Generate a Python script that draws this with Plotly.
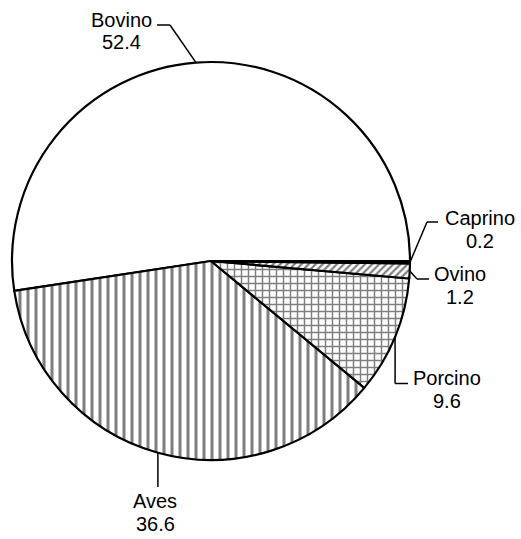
import numpy as np
import plotly.graph_objects as go

# ---- data ----
categories = ["Bovino", "Aves", "Porcino", "Ovino", "Caprino"]
values = [52.4, 36.6, 9.6, 1.2, 0.2]
value_labels = ["52.4", "36.6", "9.6", "1.2", "0.2"]

# ---- styling / layout ----
W, H = 521, 539
CX, CY, R = 211, 261, 199  # pie centre and radius in px
patterns = ["", "|", "+", "/", ""]
pat_size = [8, 8, 7, 5, 4]
pat_solid = [0.2, 0.38, 0.38, 0.45, 0.3]
fill_colors = ["white", "white", "white", "white", "black"]
FONT = dict(family="Liberation Sans, Arial, sans-serif", size=20, color="black")

# label layout (px): elbow, end of leader, text centre (name line); value line below
label_layout = {
    "Bovino": dict(elbow=(170, 25), end=(157, 25), text=(121.5, 19.5)),
    "Caprino": dict(elbow=(427, 222), end=(438, 222), text=(480, 217.5)),
    "Ovino": dict(elbow=(417, 279), end=(429, 279), text=(460, 274)),
    "Porcino": dict(elbow=("edge", 383.5), end=(408, 383.5), text=(447, 377.5)),
    "Aves": dict(elbow=("edge", 487), end=("edge", 487), text=(155, 500.5)),
}
LINE_GAP = 23


def px(x, y):
    return x / W, 1 - y / H


# slices go counterclockwise from 3 o'clock in data order; plotly draws the
# first slice clockwise from `rotation`, so place its far edge at 3 o'clock
total = float(np.sum(values))
rotation = 90 - 360.0 * values[0] / total

fig = go.Figure(
    go.Pie(
        labels=categories,
        values=values,
        sort=False,
        direction="counterclockwise",
        rotation=rotation,
        textinfo="none",
        hoverinfo="none",
        showlegend=False,
        marker=dict(
            colors=fill_colors,
            line=dict(color="black", width=2.2),
            pattern=dict(
                shape=patterns,
                size=pat_size,
                solidity=pat_solid,
                fgcolor="black",
                bgcolor=fill_colors,
                fillmode="overlay",
            ),
        ),
        domain=dict(x=[(CX - R) / W, (CX + R) / W], y=[1 - (CY + R) / H, 1 - (CY - R) / H]),
    )
)

# leader lines from slice mid-angles (computed from data)
cum = np.cumsum([0] + values)
shapes = []
annotations = []
for i, cat in enumerate(categories):
    mid = (cum[i] + cum[i + 1]) / 2 / total * 360.0  # degrees ccw from east
    ex = CX + R * np.cos(np.radians(mid))
    ey = CY - R * np.sin(np.radians(mid))
    lay = label_layout[cat]
    bx = ex if lay["elbow"][0] == "edge" else lay["elbow"][0]
    by = lay["elbow"][1]
    tx = ex if lay["end"][0] == "edge" else lay["end"][0]
    ty = lay["end"][1]
    pts = [(ex, ey), (bx, by), (tx, ty)]
    for (x0, y0), (x1, y1) in zip(pts[:-1], pts[1:]):
        if abs(x0 - x1) < 1e-6 and abs(y0 - y1) < 1e-6:
            continue
        p0 = px(x0, y0)
        p1 = px(x1, y1)
        shapes.append(dict(type="line", xref="paper", yref="paper",
                           x0=p0[0], y0=p0[1], x1=p1[0], y1=p1[1],
                           line=dict(color="black", width=1.5)))
    cx_t, cy_t = lay["text"]
    for txt, yy in [(cat, cy_t), (value_labels[i], cy_t + LINE_GAP)]:
        p = px(cx_t, yy)
        annotations.append(dict(text=txt, x=p[0], y=p[1], xref="paper", yref="paper",
                                xanchor="center", yanchor="middle", showarrow=False,
                                font=FONT))

fig.update_layout(
    width=W,
    height=H,
    margin=dict(l=0, r=0, t=0, b=0),
    paper_bgcolor="white",
    plot_bgcolor="white",
    shapes=shapes,
    annotations=annotations,
)

fig.write_html("out.html", config={"displayModeBar": False},
               post_script="document.body.style.margin='0';")
